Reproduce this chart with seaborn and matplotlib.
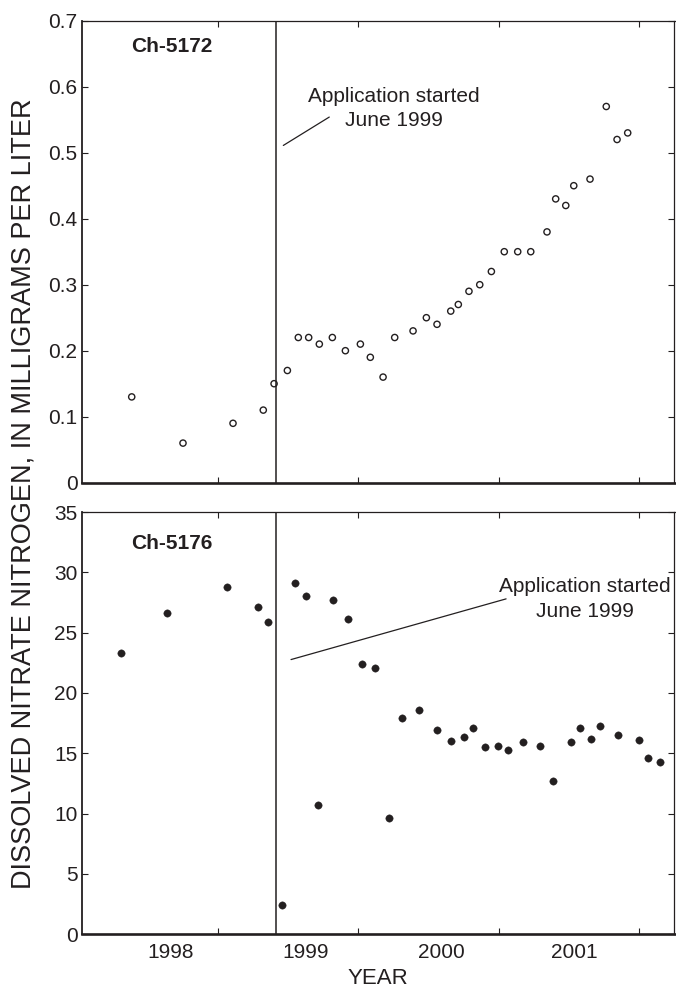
import matplotlib
matplotlib.use("Agg")
import matplotlib.pyplot as plt
import seaborn as sns
import pandas as pd

# ---------------- data ----------------
top_dates = [1998.382, 1998.748, 1999.105, 1999.321, 1999.398, 1999.493, 1999.571,
             1999.645, 1999.721, 1999.814, 1999.907, 2000.014, 2000.085, 2000.176,
             2000.259, 2000.390, 2000.485, 2000.561, 2000.659, 2000.713, 2000.789,
             2000.866, 2000.949, 2001.041, 2001.137, 2001.230, 2001.346, 2001.408,
             2001.480, 2001.537, 2001.653, 2001.769, 2001.846, 2001.922]
top_vals = [0.13, 0.06, 0.09, 0.11, 0.15, 0.17, 0.22, 0.22, 0.21, 0.22, 0.20, 0.21,
            0.19, 0.16, 0.22, 0.23, 0.25, 0.24, 0.26, 0.27, 0.29, 0.30, 0.32, 0.35,
            0.35, 0.35, 0.38, 0.43, 0.42, 0.45, 0.46, 0.57, 0.52, 0.53]

bottom_dates = [1998.308, 1998.634, 1999.062, 1999.283, 1999.357, 1999.457, 1999.547,
                1999.628, 1999.712, 1999.817, 1999.924, 2000.028, 2000.118, 2000.218,
                2000.311, 2000.430, 2000.561, 2000.659, 2000.754, 2000.820, 2000.904,
                2000.999, 2001.066, 2001.177, 2001.298, 2001.387, 2001.515, 2001.580,
                2001.662, 2001.724, 2001.855, 2002.005, 2002.067, 2002.151]
bottom_vals = [23.3, 26.6, 28.8, 27.1, 25.9, 2.4, 29.1, 28.0, 10.7, 27.7, 26.1, 22.4,
               22.1, 9.6, 17.9, 18.6, 16.9, 16.0, 16.35, 17.1, 15.55, 15.6, 15.3, 15.9,
               15.6, 12.7, 15.9, 17.1, 16.2, 17.3, 16.5, 16.1, 14.6, 14.3]

year_ticks = [1999, 2000, 2001, 2002]
year_label_pos = [1998.657, 1999.626, 2000.593, 2001.543]
year_labels = ["1998", "1999", "2000", "2001"]
top_yticks = [0, 0.1, 0.2, 0.3, 0.4, 0.5, 0.6, 0.7]
top_yticklabels = ["0", "0.1", "0.2", "0.3", "0.4", "0.5", "0.6", "0.7"]
bottom_yticks = [0, 5, 10, 15, 20, 25, 30, 35]
application_date = 1999.415

panel_names = ["Ch-5172", "Ch-5176"]
ylabel = "DISSOLVED NITRATE NITROGEN, IN MILLIGRAMS PER LITER"
xlabel = "YEAR"
annot_lines = ["Application started", "June 1999"]

top_df = pd.DataFrame({"date": top_dates, "value": top_vals})
bot_df = pd.DataFrame({"date": bottom_dates, "value": bottom_vals})

# ---------------- style ----------------
sns.set_style("ticks")
FONT = ["Liberation Sans", "DejaVu Sans"]
plt.rcParams["font.family"] = FONT
INK = "#231f20"
plt.rcParams["text.color"] = INK
plt.rcParams["axes.labelcolor"] = INK
plt.rcParams["xtick.color"] = INK
plt.rcParams["ytick.color"] = INK

W, H = 676, 988
fig = plt.figure(figsize=(W / 100, H / 100), dpi=100)

left = 81.7 / W
width = (674.5 - 81.7) / W
ax1 = fig.add_axes([left, 1 - 482.7 / H, width, 462.0 / H])
ax2 = fig.add_axes([left, 1 - 934.3 / H, width, 422.3 / H])

xlim = (1998.025, 2002.256)

sns.scatterplot(data=top_df, x="date", y="value", ax=ax1, marker="o", s=20,
                facecolor="none", edgecolor=INK, linewidth=1.0, legend=False)
sns.scatterplot(data=bot_df, x="date", y="value", ax=ax2, marker="o", s=28,
                color=INK, edgecolor=INK, linewidth=0.3, legend=False)

for ax, yt, ylim in [(ax1, top_yticks, (0, 0.7)), (ax2, bottom_yticks, (0, 35))]:
    ax.set_xlim(*xlim)
    ax.set_ylim(*ylim)
    ax.set_yticks(yt)
    ax.set_xticks(year_ticks)
    ax.set_xticks(year_label_pos, minor=True)
    ax.set_xlabel("")
    ax.set_ylabel("")
    ax.axvline(application_date, color=INK, lw=1.1, zorder=1)
    ax.tick_params(axis="both", which="major", direction="in", length=4.3, width=0.8,
                   top=True, right=True, labelsize=15)
    ax.tick_params(axis="y", pad=3)
    ax.tick_params(axis="x", which="major", labelbottom=False)
    ax.tick_params(axis="x", which="minor", length=0, top=False, bottom=True,
                   labelsize=15, pad=6.5)
    for side in ["top", "right", "bottom", "left"]:
        ax.spines[side].set_visible(True)
        ax.spines[side].set_color(INK)
    ax.spines["top"].set_linewidth(0.9)
    ax.spines["right"].set_linewidth(0.9)
    ax.spines["left"].set_linewidth(1.3)
    ax.spines["bottom"].set_linewidth(1.9)

ax1.set_yticklabels(top_yticklabels)
ax1.set_xticklabels([], minor=True)
ax2.set_xticklabels(year_labels, minor=True)

# panel names
ax1.text(0.083, 0.933, panel_names[0], transform=ax1.transAxes, fontsize=15,
         fontweight="bold", ha="left", va="baseline")
ax2.text(0.083, 0.912, panel_names[1], transform=ax2.transAxes, fontsize=15,
         fontweight="bold", ha="left", va="baseline")

# annotations
ax1.text(0.5263, 0.8247, annot_lines[0], transform=ax1.transAxes, fontsize=15,
         ha="center", va="baseline")
ax1.text(0.5263, 0.7721, annot_lines[1], transform=ax1.transAxes, fontsize=15,
         ha="center", va="baseline")
ax1.plot([1999.792, 1999.464], [0.554, 0.511], color=INK, lw=0.9)

ax2.text(0.8485, 0.8098, annot_lines[0], transform=ax2.transAxes, fontsize=15,
         ha="center", va="baseline")
ax2.text(0.8485, 0.7521, annot_lines[1], transform=ax2.transAxes, fontsize=15,
         ha="center", va="baseline")
ax2.plot([2001.054, 1999.519], [27.8, 22.77], color=INK, lw=0.9)

# axis labels
fig.text(23.5 / W, 1 - 494 / H, ylabel, rotation=90, ha="center", va="center",
         fontsize=19.5)
fig.text(378 / W, 1 - 984 / H, xlabel, ha="center", va="baseline", fontsize=16)

fig.savefig("out.png", dpi=100)
